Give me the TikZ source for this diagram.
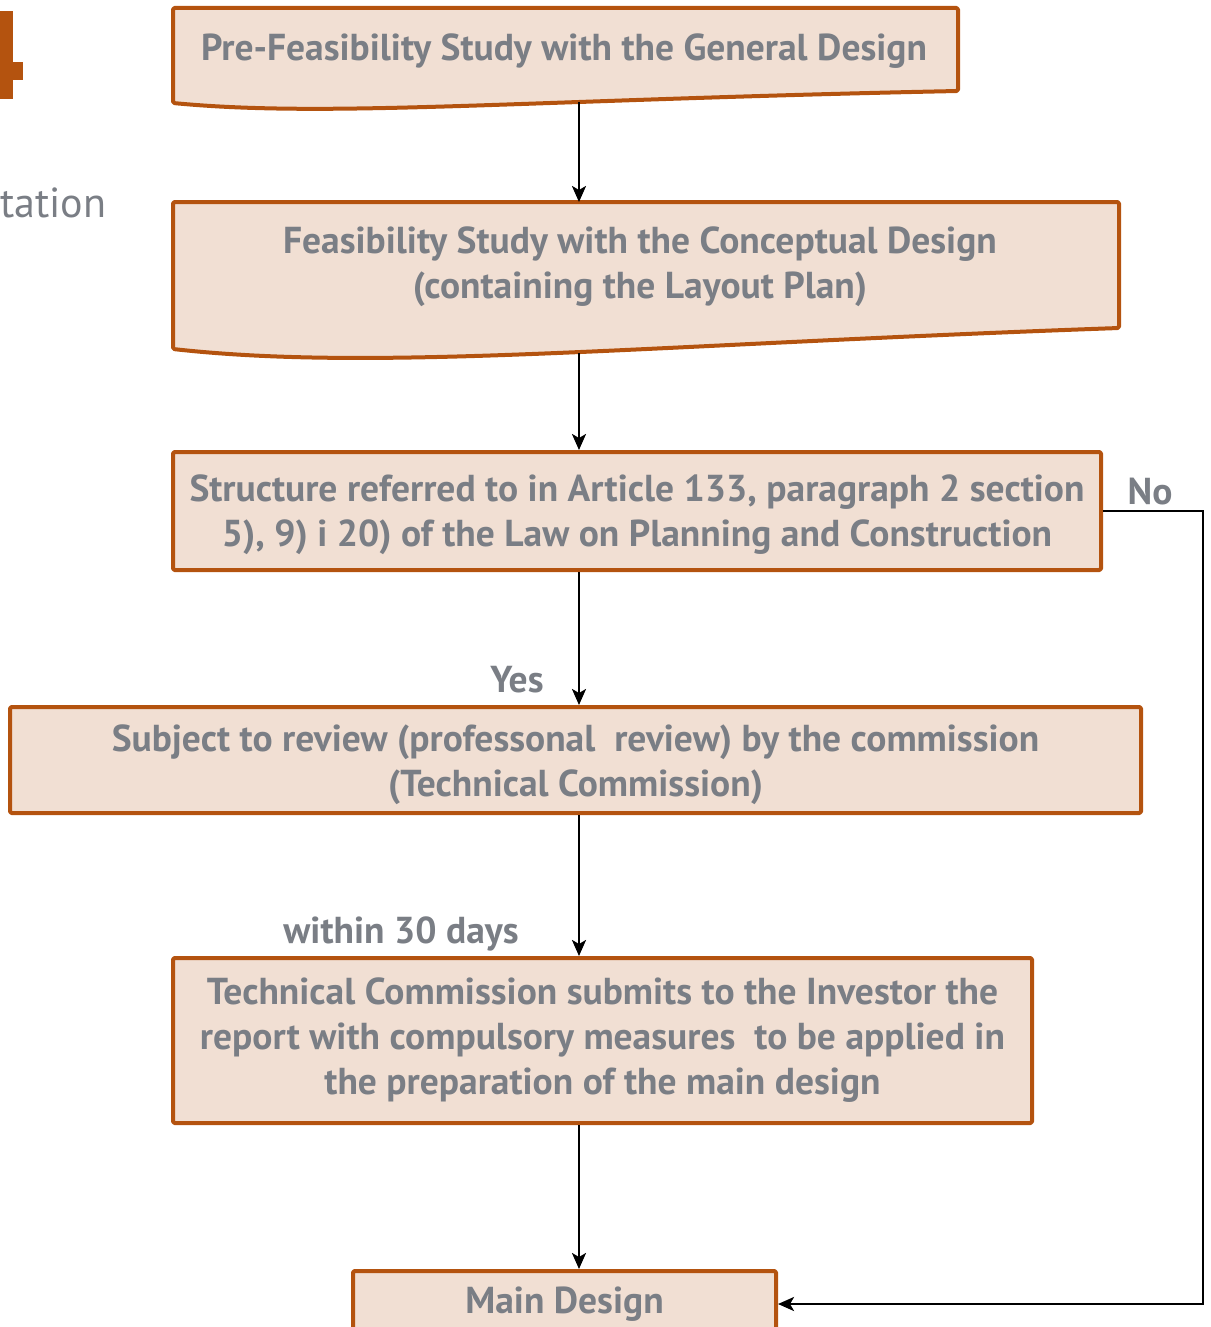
\documentclass[tikz,border=0pt]{standalone}
\usepackage{fontspec}
\setmainfont{PT Sans}
\usetikzlibrary{arrows.meta,calc}
\definecolor{edge}{HTML}{B4530F}
\definecolor{boxfill}{HTML}{F1DFD3}
\definecolor{txt}{HTML}{7A7E85}
\tikzset{
  boxline/.style={draw=edge, line width=4pt, fill=boxfill, line join=round, rounded corners=1.5pt},
  box/.style={boxline, rectangle, inner sep=0pt, align=center, text=txt,
    font=\bfseries\fontsize{37.5}{45}\selectfont},
  boxtext/.style={inner sep=0pt, align=center, text=txt,
    font=\bfseries\fontsize{37.5}{45}\selectfont},
  lbl/.style={inner sep=0pt, text=txt, font=\bfseries\fontsize{37.5}{42}\selectfont},
  flow/.style={draw=black, line width=2.5pt, -{Stealth[length=16pt,width=14pt,inset=4pt]}}
}
\begin{document}
\begin{tikzpicture}[x=1pt,y=-1pt]
\useasboundingbox (0,0) rectangle (1210,1327);
\clip (0,0) rectangle (1210,1327);

% fragment of the large chapter numeral at the left edge
\fill[edge] (0,11) rectangle (13,99);
\fill[edge] (0,62) rectangle (23,80);
\node[anchor=west, inner sep=0pt, text=txt, font=\fontsize{42}{48}\selectfont] (frag) at (0,203) {tation};

% document-shaped boxes (wavy bottom edge)
\path[boxline] (173,8) -- (958,8) -- (958,91)
  .. controls (520,100) and (330,118) .. (173,103) -- cycle;
\node[boxtext] (s1) at (564,51) {Pre-Feasibility Study with the General Design};
\coordinate (s1b) at (579,102);

\path[boxline] (173,202) -- (1119,202) -- (1119,328)
  .. controls (640,345) and (380,372) .. (173,349) -- cycle;
\node[boxtext] (s2) at (640,267) {Feasibility Study with the Conceptual Design\\(containing the Layout Plan)};
\coordinate (s2t) at (579,202);
\coordinate (s2b) at (579,353);

% rectangular steps (frame and text placed separately)
\node[box, minimum width=928, minimum height=118] (s3) at (637,511) {};
\node[boxtext] (s3t) at (637,515)
  {Structure referred to in Article 133, paragraph 2 section\\5), 9) i 20) of the Law on Planning and Construction};
\node[box, minimum width=1131, minimum height=106] (s4) at (575.5,760) {};
\node[boxtext] (s4t) at (575.5,765)
  {Subject to review (professonal\ \ review) by the commission\\(Technical Commission)};
\node[box, minimum width=859, minimum height=165] (s5) at (602.5,1040.5)
  {Technical Commission submits to the Investor the\\report with compulsory measures\ \ to be applied in\\the preparation of the main design};
\node[box, minimum width=423, minimum height=66] (s6) at (564.5,1304) {Main Design};

% connectors
\coordinate (ax) at (579,0);
\draw[flow] (s1b) -- (s2t);
\draw[flow] (s2b) -- (s3.north -| ax);
\draw[flow] (s3.south -| ax) -- (s4.north -| ax);
\draw[flow] (s4.south -| ax) -- (s5.north -| ax);
\draw[flow] (s5.south -| ax) -- (s6.north -| ax);
\coordinate (rx) at (1203,0);
\draw[flow] (s3.east) -- (s3.east -| rx) -- (s6.east -| rx) -- (s6.east);

% connector labels
\node[lbl] (no) at (1150,492) {No};
\node[lbl] (yes) at (517,680) {Yes};
\node[lbl] (days) at (401,934) {within 30 days};
\end{tikzpicture}
\end{document}
